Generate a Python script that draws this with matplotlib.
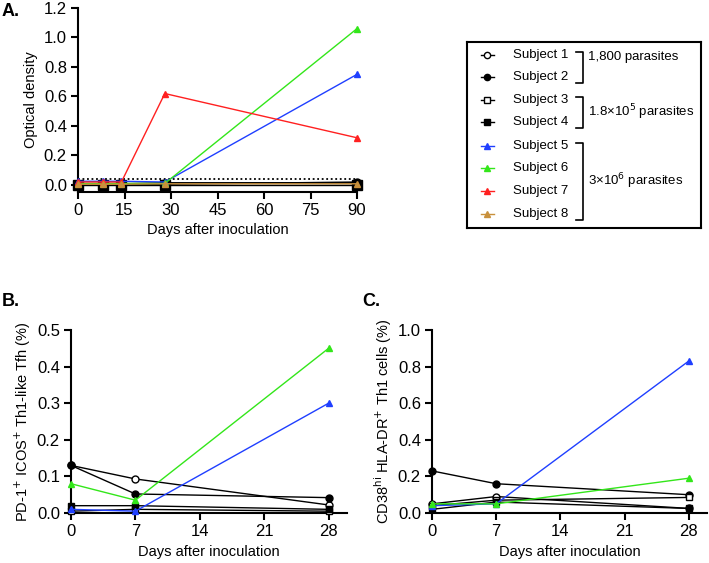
import numpy as np
import matplotlib
matplotlib.use('Agg')
import matplotlib.pyplot as plt

plt.rcParams['font.family'] = ['Liberation Sans', 'DejaVu Sans']

# ---- data ----
subjects = ['Subject 1', 'Subject 2', 'Subject 3', 'Subject 4',
            'Subject 5', 'Subject 6', 'Subject 7', 'Subject 8']
colors = ['black', 'black', 'black', 'black',
          '#1f3fff', '#33e61a', '#ff2020', '#c8903c']
markers = ['o', 'o', 's', 's', '^', '^', '^', '^']
filled = [False, True, False, True, True, True, True, True]

groups = ['1,800 parasites', '1.8×10$^{5}$ parasites', '3×10$^{6}$ parasites']
group_rows = [(0, 1), (2, 3), (4, 7)]

# Panel A: optical density
days_a = [0, 8, 14, 28, 90]
od = [
    [0.005, 0.005, 0.005, 0.01, 0.01],   # subject 1
    [0.003, 0.003, 0.003, 0.005, 0.02],  # subject 2
    [0.008, 0.008, 0.008, 0.015, 0.015], # subject 3
    [0.0, 0.0, 0.0, 0.0, 0.0],           # subject 4
    [0.025, 0.025, 0.025, 0.02, 0.75],   # subject 5
    [0.01, 0.01, 0.01, 0.01, 1.06],      # subject 6
    [0.02, 0.02, 0.02, 0.62, 0.32],      # subject 7
    [0.005, 0.005, 0.005, 0.008, 0.008], # subject 8
]
od_cutoff = 0.04

# Panel B / C: days 0, 7, 28 (subjects 1-6)
days_bc = [0, 7, 28]
tfh = [
    [0.13, 0.093, 0.022],
    [0.13, 0.052, 0.042],
    [0.005, 0.01, 0.005],
    [0.02, 0.02, 0.01],
    [0.01, 0.005, 0.30],
    [0.08, 0.035, 0.45],
]
th1 = [
    [0.05, 0.09, 0.025],
    [0.23, 0.16, 0.10],
    [0.04, 0.07, 0.085],
    [0.02, 0.06, 0.025],
    [0.04, 0.05, 0.83],
    [0.05, 0.05, 0.19],
]

W, H = 709, 563
fig = plt.figure(figsize=(W / 100, H / 100), dpi=100)


def px_axes(left, top, right, bottom):
    return fig.add_axes([left / W, 1 - bottom / H, (right - left) / W, (bottom - top) / H])


def draw_series(ax, x, y, i, ms=5):
    c = colors[i]
    ax.plot(x, y, color=c, lw=1.0, marker=markers[i], ms=ms,
            markerfacecolor=c if filled[i] else 'white', markeredgecolor=c,
            markeredgewidth=1.0, clip_on=False, zorder=3)


def style(ax):
    for s in ['top', 'right']:
        ax.spines[s].set_visible(False)
    for s in ['left', 'bottom']:
        ax.spines[s].set_linewidth(1.5)
    ax.tick_params(width=1.5, length=5, labelsize=12, direction='out', pad=3)


# ---- Panel A ----
axA = px_axes(78, 8, 357, 191.6)
for i in range(len(subjects)):
    draw_series(axA, days_a, od[i], i, ms=5 if i != 3 else 7)
axA.plot([0, 90], [od_cutoff, od_cutoff], ls=(0, (1, 1.5)), color='black', lw=1.3, clip_on=False)
axA.set_xlim(0, 90)
axA.set_ylim(-0.045, 1.2)
axA.set_xticks(np.arange(0, 91, 15))
axA.set_yticks(np.arange(0, 1.21, 0.2))
axA.set_yticklabels([f'{v:.1f}' for v in np.arange(0, 1.21, 0.2)])
axA.spines['left'].set_bounds(-0.045, 1.2)
style(axA)
axA.set_ylabel('Optical density', fontsize=10.5, labelpad=4)
axA.set_xlabel('Days after inoculation', fontsize=10.5, labelpad=4)

# ---- Panel B ----
axB = px_axes(71, 330, 347, 513)
for i in range(len(tfh)):
    draw_series(axB, days_bc, tfh[i], i)
axB.set_xlim(0, 30)
axB.set_ylim(0, 0.5)
axB.set_xticks([0, 7, 14, 21, 28])
axB.set_yticks(np.arange(0, 0.51, 0.1))
axB.set_yticklabels([f'{v:.1f}' for v in np.arange(0, 0.51, 0.1)])
style(axB)
axB.set_ylabel('PD-1$^{+}$ ICOS$^{+}$ Th1-like Tfh (%)', fontsize=10.5, labelpad=3)
axB.set_xlabel('Days after inoculation', fontsize=10.5, labelpad=4)

# ---- Panel C ----
axC = px_axes(432, 330, 707, 513)
for i in range(len(th1)):
    draw_series(axC, days_bc, th1[i], i)
axC.set_xlim(0, 30)
axC.set_ylim(0, 1.0)
axC.set_xticks([0, 7, 14, 21, 28])
axC.set_yticks(np.arange(0, 1.01, 0.2))
axC.set_yticklabels([f'{v:.1f}' for v in np.arange(0, 1.01, 0.2)])
style(axC)
axC.set_ylabel('CD38$^{\\mathrm{hi}}$ HLA-DR$^{+}$ Th1 cells (%)', fontsize=10.5, labelpad=3)
axC.set_xlabel('Days after inoculation', fontsize=10.5, labelpad=4)

# panel letters
fig.text(2 / W, 1 - 12 / H, 'A.', fontsize=13, fontweight='bold', va='center')
fig.text(2 / W, 1 - 302 / H, 'B.', fontsize=13, fontweight='bold', va='center')
fig.text(362 / W, 1 - 302 / H, 'C.', fontsize=13, fontweight='bold', va='center')

# ---- legend box (pixel coordinates inside) ----
L, T, R, B = 467, 42, 701, 228
axL = px_axes(L, T, R, B)
axL.set_xlim(L, R)
axL.set_ylim(B, T)
axL.set_xticks([])
axL.set_yticks([])
for s in axL.spines.values():
    s.set_linewidth(1.5)
row_y = [55, 77, 100, 122, 146, 168, 191, 214]
for i, name in enumerate(subjects):
    c = colors[i]
    axL.plot([481, 494], [row_y[i], row_y[i]], color=c, lw=1.0)
    axL.plot([487.5], [row_y[i]], marker=markers[i], ms=4.5, color=c,
             markerfacecolor=c if filled[i] else 'white', markeredgewidth=1.0)
    axL.text(513, row_y[i], name, fontsize=9.5, va='center', ha='left')
for (a, b), g in zip(group_rows, groups):
    y0, y1 = row_y[a] - 3, row_y[b] + 6
    axL.plot([576, 583, 583, 576], [y0, y0, y1, y1], color='black', lw=1.2)
    axL.text(588, (y0 + y1) / 2 if a != 0 else row_y[0] + 2, g, fontsize=9.5, va='center', ha='left')

fig.savefig('out.png', dpi=100)
